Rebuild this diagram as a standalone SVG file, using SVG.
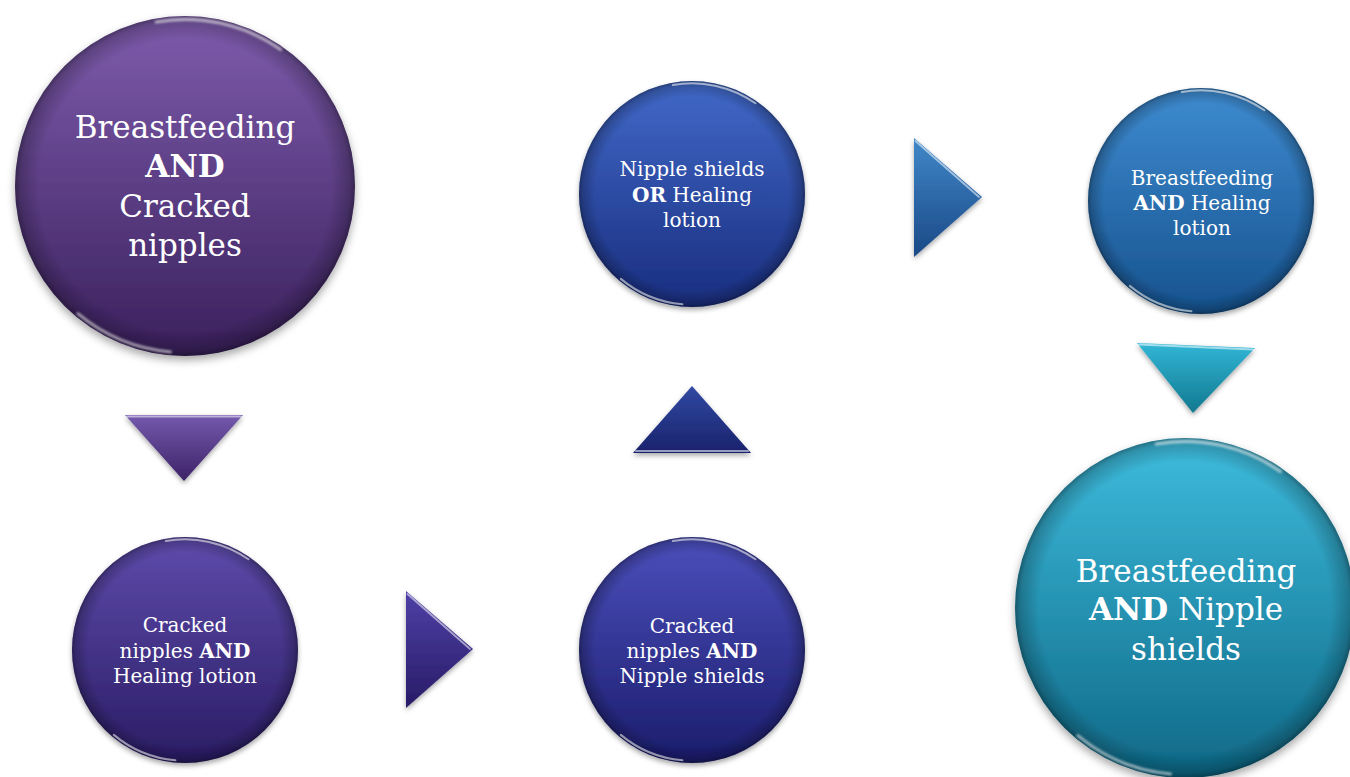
<svg xmlns="http://www.w3.org/2000/svg" xmlns:xlink="http://www.w3.org/1999/xlink" width="1350" height="777" viewBox="0 0 1350 777">
<style>
.t{fill:#ffffff;font-family:"DejaVu Serif","Liberation Serif",serif;text-anchor:middle}
.big{font-size:31px}
.sm{font-size:20px}
.b{font-weight:bold}
.hl{fill:none;stroke:#ffffff;stroke-linecap:round;stroke-opacity:0.55;stroke-width:1.8}
</style>
<defs>
<filter id="sh" x="-20%" y="-20%" width="140%" height="150%">
<feDropShadow dx="0" dy="2.5" stdDeviation="2.5" flood-color="#000" flood-opacity="0.35"/>
</filter>
<filter id="soft"><feGaussianBlur stdDeviation="0.6"/></filter>
<radialGradient id="rim" cx="0.5" cy="0.5" r="0.5">
<stop offset="0.86" stop-color="#000" stop-opacity="0"/>
<stop offset="0.97" stop-color="#000" stop-opacity="0.22"/>
<stop offset="1" stop-color="#000" stop-opacity="0.4"/>
</radialGradient>
<linearGradient id="g1" x1="0" y1="0" x2="0" y2="1"><stop offset="0" stop-color="#7e5cad"/><stop offset="1" stop-color="#3a205c"/></linearGradient>
<linearGradient id="g2" x1="0" y1="0" x2="0" y2="1"><stop offset="0" stop-color="#5e4bab"/><stop offset="1" stop-color="#2a1c64"/></linearGradient>
<linearGradient id="g3" x1="0" y1="0" x2="0" y2="1"><stop offset="0" stop-color="#4b4fbb"/><stop offset="1" stop-color="#1b1c6c"/></linearGradient>
<linearGradient id="g4" x1="0" y1="0" x2="0" y2="1"><stop offset="0" stop-color="#4169c8"/><stop offset="1" stop-color="#192d7e"/></linearGradient>
<linearGradient id="g5" x1="0" y1="0" x2="0" y2="1"><stop offset="0" stop-color="#3e8bd0"/><stop offset="1" stop-color="#16528e"/></linearGradient>
<linearGradient id="g6" x1="0" y1="0" x2="0" y2="1"><stop offset="0" stop-color="#3ebcdd"/><stop offset="1" stop-color="#0e6886"/></linearGradient>
<linearGradient id="a1" x1="0" y1="0" x2="0" y2="1"><stop offset="0" stop-color="#7459ad"/><stop offset="1" stop-color="#3c2266"/></linearGradient>
<linearGradient id="a2" x1="0" y1="0" x2="0" y2="1"><stop offset="0" stop-color="#4e40a6"/><stop offset="1" stop-color="#281b66"/></linearGradient>
<linearGradient id="a3" x1="0" y1="0" x2="0" y2="1"><stop offset="0" stop-color="#3149a2"/><stop offset="1" stop-color="#19226c"/></linearGradient>
<linearGradient id="a4" x1="0" y1="0" x2="0" y2="1"><stop offset="0" stop-color="#4088c9"/><stop offset="1" stop-color="#1a4886"/></linearGradient>
<linearGradient id="a5" x1="0" y1="0" x2="0" y2="1"><stop offset="0" stop-color="#32b6d6"/><stop offset="1" stop-color="#11788f"/></linearGradient>
<g id="bevel">
<circle r="100" fill="url(#rim)"/>
<path class="hl" filter="url(#soft)" d="M-17,-96.5 A98,98 0 0 1 56.2,-80.3"/>
<path class="hl" filter="url(#soft)" d="M-8.5,97.6 A98,98 0 0 1 -63,75.1"/>
</g>
</defs>
<rect width="1350" height="777" fill="#ffffff"/>

<g id="connectors">
<polygon points="125,415 243,415 184,481" fill="url(#a1)" filter="url(#sh)"/>
<polyline points="127,416.5 241,416.5" class="hl"/>
<polygon points="406,591 473,649 406,708" fill="url(#a2)" filter="url(#sh)"/>
<polyline points="407.5,594 470,649" class="hl"/>
<polygon points="692,386 751,453 633,453" fill="url(#a3)" filter="url(#sh)"/>
<polyline points="636,451 748,451" class="hl" stroke-opacity="0.3"/>
<polygon points="914,138 982,197 914,257" fill="url(#a4)" filter="url(#sh)"/>
<polyline points="915.5,141 979,197" class="hl"/>
<polygon points="1137,343 1255,348 1193,413" fill="url(#a5)" filter="url(#sh)"/>
<polyline points="1139,344.5 1253,349.5" class="hl"/>
</g>

<g id="n1">
<g transform="translate(185,186) scale(1.7)">
<circle r="100" fill="url(#g1)" filter="url(#sh)"/>
<use xlink:href="#bevel"/>
</g>
<text class="t big" x="185" y="138">Breastfeeding</text>
<text class="t big b" x="185" y="177">AND</text>
<text class="t big" x="185" y="217">Cracked</text>
<text class="t big" x="185" y="256">nipples</text>
</g>

<g id="n2">
<g transform="translate(185,650) scale(1.13)">
<circle r="100" fill="url(#g2)" filter="url(#sh)"/>
<use xlink:href="#bevel"/>
</g>
<text class="t sm" x="185" y="632">Cracked</text>
<text class="t sm" x="185" y="658">nipples <tspan class="b">AND</tspan></text>
<text class="t sm" x="185" y="683">Healing lotion</text>
</g>

<g id="n3">
<g transform="translate(692,650) scale(1.13)">
<circle r="100" fill="url(#g3)" filter="url(#sh)"/>
<use xlink:href="#bevel"/>
</g>
<text class="t sm" x="692" y="633">Cracked</text>
<text class="t sm" x="692" y="658">nipples <tspan class="b">AND</tspan></text>
<text class="t sm" x="692" y="683">Nipple shields</text>
</g>

<g id="n4">
<g transform="translate(692,194) scale(1.13)">
<circle r="100" fill="url(#g4)" filter="url(#sh)"/>
<use xlink:href="#bevel"/>
</g>
<text class="t sm" x="692" y="176">Nipple shields</text>
<text class="t sm" x="692" y="202"><tspan class="b">OR</tspan> Healing</text>
<text class="t sm" x="692" y="227">lotion</text>
</g>

<g id="n5">
<g transform="translate(1201,201) scale(1.13)">
<circle r="100" fill="url(#g5)" filter="url(#sh)"/>
<use xlink:href="#bevel"/>
</g>
<text class="t sm" x="1202" y="185">Breastfeeding</text>
<text class="t sm" x="1202" y="210"><tspan class="b">AND</tspan> Healing</text>
<text class="t sm" x="1202" y="235">lotion</text>
</g>

<g id="n6">
<g transform="translate(1185,608) scale(1.7)">
<circle r="100" fill="url(#g6)" filter="url(#sh)"/>
<use xlink:href="#bevel"/>
</g>
<text class="t big" x="1186" y="582">Breastfeeding</text>
<text class="t big" x="1186" y="620"><tspan class="b">AND</tspan> Nipple</text>
<text class="t big" x="1186" y="660">shields</text>
</g>
</svg>
